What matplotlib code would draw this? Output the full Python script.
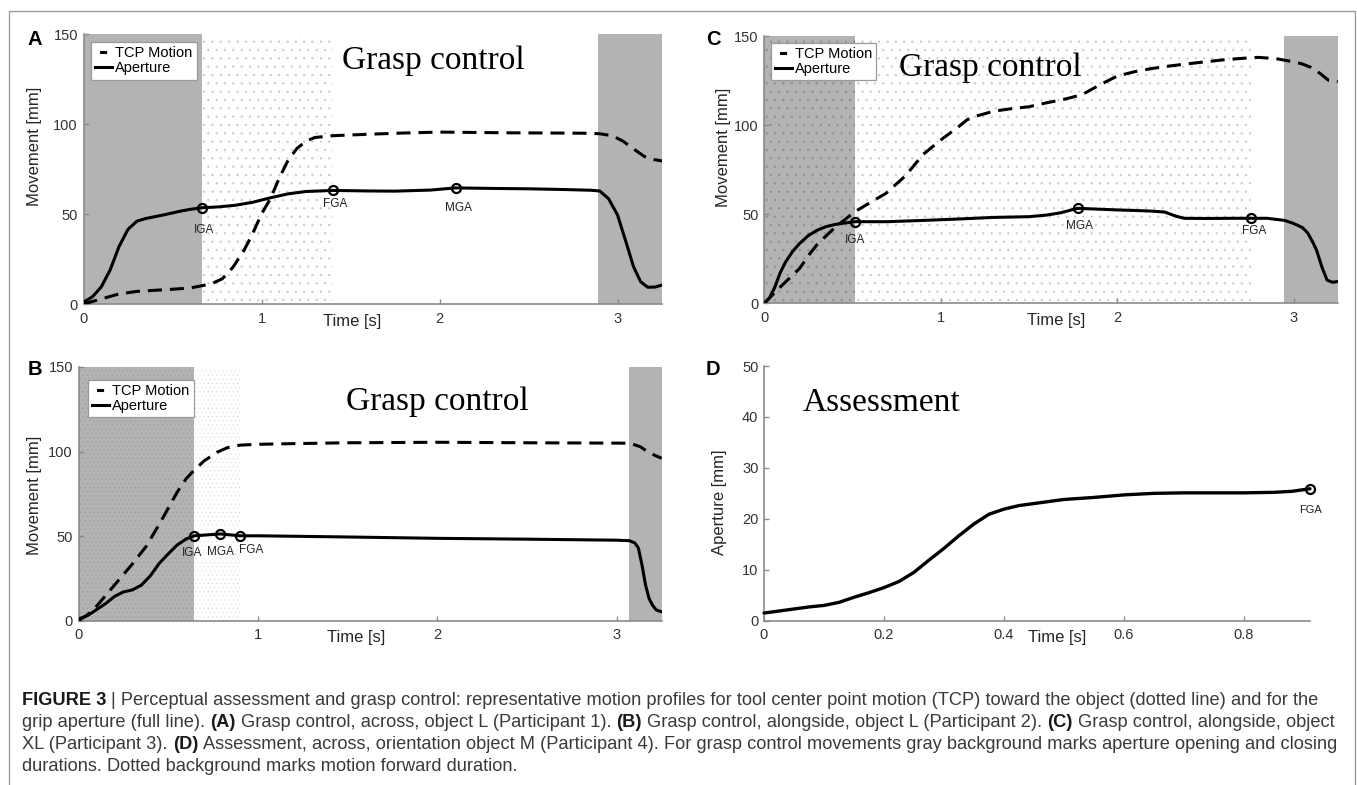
import matplotlib
matplotlib.use("Agg")
import matplotlib.pyplot as plt
from matplotlib.lines import Line2D
from matplotlib.patches import Rectangle
from matplotlib import font_manager

W, H = 1357, 785

# ---------------- data ----------------
# Panel A: grasp control, across, object L
a_time_ap = [0, 0.05, 0.10, 0.15, 0.20, 0.25, 0.30, 0.35, 0.40, 0.45, 0.50, 0.55, 0.60,
             0.668, 0.75, 0.85, 0.95, 1.05, 1.15, 1.25, 1.40, 1.60, 1.75, 1.95, 2.09,
             2.30, 2.50, 2.70, 2.85, 2.90, 2.95, 3.00, 3.05, 3.09, 3.13, 3.17, 3.21, 3.25]
a_aperture = [1.0, 4.0, 9.5, 19, 32, 41.5, 46, 47.5, 48.5, 49.5, 50.6, 51.7, 52.6,
              53.5, 53.9, 54.8, 56.5, 59.0, 61.2, 62.5, 63.1, 62.8, 62.7, 63.3, 64.5,
              64.2, 64.0, 63.6, 63.2, 62.8, 58.5, 49.5, 33.7, 20.7, 12.4, 9.3, 9.4, 10.5]
a_time_tcp = [0, 0.1, 0.2, 0.3, 0.4, 0.5, 0.6, 0.668, 0.72, 0.78, 0.84, 0.90, 0.95, 1.00,
              1.05, 1.10, 1.15, 1.20, 1.25, 1.30, 1.40, 1.60, 1.80, 2.00, 2.20, 2.40,
              2.60, 2.80, 2.90, 2.97, 3.03, 3.10, 3.15, 3.20, 3.25]
a_tcp = [0, 2.8, 5.6, 7.0, 7.6, 8.2, 8.9, 10.2, 11.3, 14, 20.5, 29.5, 39, 50,
         58.5, 70, 80, 86.5, 90.5, 92.5, 93.5, 94.3, 95, 95.5, 95.3, 95.1,
         95, 94.9, 94.6, 93.5, 90.5, 85.5, 82, 80.3, 79.5]
a_event_time = [0.668, 1.40, 2.09]
a_event_value = [53.5, 63.1, 64.5]
a_event_label = ["IGA", "FGA", "MGA"]
a_gray_spans = [(0, 0.668), (2.89, 3.25)]
a_dot_spans = [(0.668, 1.40)]

# Panel B: grasp control, alongside, object L
b_time_ap = [0, 0.05, 0.10, 0.15, 0.20, 0.25, 0.30, 0.35, 0.40, 0.45, 0.50, 0.55, 0.60,
             0.645, 0.70, 0.79, 0.90, 1.00, 1.50, 2.00, 2.50, 3.00, 3.07, 3.10, 3.12,
             3.14, 3.16, 3.18, 3.20, 3.22, 3.25]
b_aperture = [1, 3.0, 6.5, 10, 14.3, 17, 18.2, 21, 26.5, 33.9, 39.5, 44.8, 48.3,
              50.2, 50.6, 51.3, 50.2, 50.2, 49.5, 48.7, 48.2, 47.6, 47.3, 46, 43,
              33, 21, 13, 9, 6.3, 5.3]
b_time_tcp = [0, 0.05, 0.10, 0.20, 0.30, 0.376, 0.45, 0.50, 0.55, 0.60, 0.645, 0.70,
              0.77, 0.83, 0.90, 1.00, 1.20, 1.50, 2.00, 2.50, 3.00, 3.074, 3.13, 3.185, 3.25]
b_tcp = [0, 3.5, 8.5, 21, 33.5, 43.8, 57, 66.5, 76, 84, 89, 94.5,
         99.5, 102.3, 103.8, 104.3, 104.7, 105.2, 105.5, 105.2, 105, 104.9, 102.9, 99, 96]
b_event_time = [0.645, 0.79, 0.90]
b_event_value = [50.2, 51.3, 50.2]
b_event_label = ["IGA", "MGA", "FGA"]
b_gray_spans = [(0, 0.645), (3.07, 3.25)]
b_dot_spans = [(0, 0.90)]

# Panel C: grasp control, alongside, object XL
c_time_ap = [0, 0.03, 0.06, 0.09, 0.12, 0.16, 0.20, 0.25, 0.30, 0.35, 0.40, 0.45, 0.514,
             0.70, 0.90, 1.10, 1.30, 1.50, 1.60, 1.68, 1.776, 1.90, 2.00, 2.10, 2.20,
             2.27, 2.33, 2.38, 2.50, 2.65, 2.757, 2.85, 2.95, 3.00, 3.05, 3.08, 3.11,
             3.13, 3.16, 3.19, 3.22, 3.25]
c_aperture = [0, 3, 9, 17, 23, 29, 33.5, 38, 41, 43, 44.2, 45, 45.8,
              45.8, 46.5, 47.3, 48.2, 48.6, 49.5, 50.8, 53.3, 52.8, 52.4, 52.1, 51.7,
              51.2, 49, 47.7, 47.6, 47.7, 47.7, 47.7, 46.5, 44.8, 42.5, 39.5, 34,
              29.9, 20.5, 13, 11.8, 12.2]
c_time_tcp = [0, 0.1, 0.2, 0.26, 0.3, 0.4, 0.514, 0.6, 0.69, 0.8, 0.9, 1.0, 1.1, 1.15,
              1.2, 1.3, 1.4, 1.5, 1.6, 1.7, 1.8, 1.9, 2.0, 2.1, 2.2, 2.3, 2.4, 2.5,
              2.6, 2.7, 2.8, 2.9, 3.0, 3.05, 3.1, 3.15, 3.2, 3.25]
c_tcp = [0, 10, 19.5, 28, 33, 42.5, 51.4, 56.5, 61.7, 71.5, 83.5, 91.6, 99, 103,
         105, 107.8, 109.2, 110.3, 112.5, 114.5, 117, 122.5, 127.5, 130, 131.8, 133.2,
         134.4, 135.5, 136.6, 137.4, 138, 137.3, 135.5, 134.3, 132.3, 129, 125, 124.4]
c_event_time = [0.514, 1.776, 2.757]
c_event_value = [45.8, 53.3, 47.7]
c_event_label = ["IGA", "MGA", "FGA"]
c_gray_spans = [(0, 0.514), (2.947, 3.25)]
c_dot_spans = [(0, 2.757)]

# Panel D: assessment, across, orientation object M
d_time = [0, 0.05, 0.075, 0.10, 0.125, 0.15, 0.175, 0.20, 0.225, 0.25, 0.275, 0.30,
          0.325, 0.35, 0.375, 0.40, 0.425, 0.45, 0.50, 0.55, 0.60, 0.65, 0.70, 0.75,
          0.80, 0.85, 0.88, 0.91]
d_aperture = [1.5, 2.3, 2.7, 3.0, 3.6, 4.6, 5.5, 6.5, 7.7, 9.5, 11.9, 14.2,
              16.7, 19.0, 20.9, 21.9, 22.6, 23.0, 23.8, 24.2, 24.7, 25.0, 25.1, 25.1,
              25.1, 25.2, 25.4, 25.9]
d_event_time = [0.91]
d_event_value = [25.9]
d_event_label = ["FGA"]

time_ticks = [0, 1, 2, 3]
time_ticklabels = ["0", "1", "2", "3"]
move_ticks = [0, 50, 100, 150]
d_time_ticks = [0, 0.2, 0.4, 0.6, 0.8]
d_time_ticklabels = ["0", "0.2", "0.4", "0.6", "0.8"]
d_ap_ticks = [0, 10, 20, 30, 40, 50]
legend_labels = ["TCP Motion", "Aperture"]

caption_lines = [
    [("FIGURE 3", True),
     (" | Perceptual assessment and grasp control: representative motion profiles for tool "
      "center point motion (TCP) toward the object (dotted line) and for the", False)],
    [("grip aperture (full line). ", False), ("(A)", True),
     (" Grasp control, across, object L (Participant 1). ", False), ("(B)", True),
     (" Grasp control, alongside, object L (Participant 2). ", False), ("(C)", True),
     (" Grasp control, alongside, object", False)],
    [("XL (Participant 3). ", False), ("(D)", True),
     (" Assessment, across, orientation object M (Participant 4). For grasp control "
      "movements gray background marks aperture opening and closing", False)],
    [("durations. Dotted background marks motion forward duration.", False)],
]

# ---------------- style ----------------
plt.rcParams["font.family"] = ["Liberation Sans", "DejaVu Sans"]
plt.rcParams["hatch.linewidth"] = 0.6

SPINE = "#8a8a8a"
TICKLAB = "#333333"
GRAY = "#b3b3b3"
LW = 2.2

fig = plt.figure(figsize=(W / 100, H / 100), dpi=100)
fig.patch.set_facecolor("white")


def make_axes(l, t, r, b):
    return fig.add_axes([l / W, 1 - b / H, (r - l) / W, (b - t) / H])


def style(ax, xlim, ylim, xticks, xticklabels, yticks):
    ax.set_xlim(*xlim)
    ax.set_ylim(*ylim)
    ax.set_xticks(xticks)
    ax.set_xticklabels(xticklabels)
    ax.set_yticks(yticks)
    for s in ["top", "right"]:
        ax.spines[s].set_visible(False)
    for s in ["left", "bottom"]:
        ax.spines[s].set_color(SPINE)
        ax.spines[s].set_linewidth(1.2)
    ax.tick_params(direction="in", length=3.5, width=1.0, color=SPINE,
                   labelcolor=TICKLAB, labelsize=10.5)
    ax.tick_params(axis="x", pad=5.5)
    ax.tick_params(axis="y", pad=4)


def labels(ax, xlab, ylab, xpos, ypos):
    ax.set_xlabel(xlab, fontsize=12, color="#262626")
    ax.set_ylabel(ylab, fontsize=12, color="#262626")
    ax.xaxis.label.set_va("center")
    ax.yaxis.label.set_va("center")
    ax.xaxis.set_label_coords(*xpos)
    ax.yaxis.set_label_coords(*ypos)


def events(ax, et, ev, el, offsets, fs=8.5):
    ax.plot(et, ev, "o", ms=6.5, mfc="none", mec="k", mew=1.6, zorder=4, clip_on=False)
    for t, v, lab, (dx, dy) in zip(et, ev, el, offsets):
        ax.annotate(lab, (t, v), xytext=(dx, dy), textcoords="offset pixels",
                    ha="center", va="center", fontsize=fs, color="#222222", zorder=5)


def panel(ax, t_ap, ap, t_tcp, tcp, gray, dots, hatch, dot_alpha, hatch_lw):
    for s, e in gray:
        ax.axvspan(s, e, facecolor=GRAY, lw=0, zorder=0.5)
    for s, e in dots:
        p = ax.axvspan(s, e, facecolor="none", edgecolor=(0, 0, 0, dot_alpha),
                       hatch=hatch, lw=0, zorder=0.6)
        if hasattr(p, "set_hatch_linewidth"):
            p.set_hatch_linewidth(hatch_lw)
    ax.plot(t_tcp, tcp, color="k", lw=LW, dashes=(4.6, 2.6), dash_capstyle="butt", zorder=3)
    ax.plot(t_ap, ap, color="k", lw=LW, zorder=3, solid_joinstyle="round")


def legend(ax, x, y):
    h1 = Line2D([], [], color="k", lw=LW, linestyle=(20.8, (2.3, 20)), dash_capstyle="butt")
    h2 = Line2D([], [], color="k", lw=LW)
    leg = ax.legend([h1, h2], legend_labels, loc="upper left", bbox_to_anchor=(x, y),
                    borderaxespad=0, fancybox=False, framealpha=1, edgecolor="#9a9a9a",
                    fontsize=10.5, handlelength=1.15, handletextpad=0.2,
                    labelspacing=0.05, borderpad=0.3)
    leg.get_frame().set_linewidth(0.9)
    leg.set_zorder(6)


def title(ax, x, y, s):
    ax.text(x, y, s, family="Liberation Serif", fontsize=24, ha="center",
            va="baseline", color="black", zorder=5)


# ---- Panel A ----
axA = make_axes(83.5, 34, 662, 304)
panel(axA, a_time_ap, a_aperture, a_time_tcp, a_tcp, a_gray_spans, a_dot_spans, "..", 0.14, 0.6)
events(axA, a_event_time, a_event_value, a_event_label, [(2, -22), (2, -14), (3, -20)])
style(axA, (0, 3.25), (0, 150), time_ticks, time_ticklabels, move_ticks)
labels(axA, "Time [s]", "Movement [mm]", (0.464, -0.063), (-0.0844, 0.583))
legend(axA, 0.013, 0.970)
title(axA, 1.968, 130.4, "Grasp control")

# ---- Panel B ----
axB = make_axes(78.5, 367, 661.7, 620.7)
panel(axB, b_time_ap, b_aperture, b_time_tcp, b_tcp, b_gray_spans, b_dot_spans, "....", 0.10, 0.4)
events(axB, b_event_time, b_event_value, b_event_label, [(-2, -17), (0, -18), (11, -14)])
style(axB, (0, 3.25), (0, 150), time_ticks, time_ticklabels, move_ticks)
labels(axB, "Time [s]", "Movement [mm]", (0.476, -0.067), (-0.0754, 0.495))
legend(axB, 0.0163, 0.949)
title(axB, 1.998, 124.6, "Grasp control")

# ---- Panel C ----
axC = make_axes(764.2, 36, 1337.7, 303.3)
panel(axC, c_time_ap, c_aperture, c_time_tcp, c_tcp, c_gray_spans, c_dot_spans, "..", 0.14, 0.6)
events(axC, c_event_time, c_event_value, c_event_label, [(0, -18), (2, -18), (3, -13)])
style(axC, (0, 3.25), (0, 150), time_ticks, time_ticklabels, move_ticks)
labels(axC, "Time [s]", "Movement [mm]", (0.509, -0.064), (-0.071, 0.583))
legend(axC, 0.0113, 0.974)
title(axC, 1.279, 127.6, "Grasp control")

# ---- Panel D ----
axD = make_axes(764, 366, 1310, 620.7)
axD.plot(d_time, d_aperture, color="k", lw=2.4, zorder=3, solid_joinstyle="round",
         solid_capstyle="round", clip_on=False)
events(axD, d_event_time, d_event_value, d_event_label, [(0, -21)], fs=8)
style(axD, (0, 0.91), (0, 50), d_time_ticks, d_time_ticklabels, d_ap_ticks)
labels(axD, "Time [s]", "Aperture [mm]", (0.5375, -0.067), (-0.0806, 0.466))
axD.text(0.196, 41.2, "Assessment", family="Liberation Serif", fontsize=24,
         ha="center", va="baseline", color="black")

# ---- panel letters ----
for lab, x, y in [("A", 34.7, 45), ("B", 34.7, 375), ("C", 713.7, 45), ("D", 712.8, 375)]:
    fig.text(x / W, 1 - y / H, lab, fontsize=14.5, fontweight="bold", ha="center",
             va="baseline", color="black")

# ---- outer frame ----
fig.add_artist(Rectangle((9 / W, -0.02), (1355 - 9) / W, 1 - 11 / H + 0.02,
                         transform=fig.transFigure, fill=False, ec="#9b9b9b", lw=1.0))

# ---- caption ----
names = {f.name for f in font_manager.fontManager.ttflist}
cap_family = "Liberation Sans Narrow" if "Liberation Sans Narrow" in names else "Liberation Sans"
renderer = fig.canvas.get_renderer()


def text_w(s, fs, weight):
    t = fig.text(0, 0, s, fontsize=fs, fontweight=weight, family=cap_family)
    w = t.get_window_extent(renderer).width
    t.remove()
    return w


def advance(s, fs, weight):
    return text_w("|" + s + "|", fs, weight) - text_w("||", fs, weight)


def line_width(segs, fs):
    return sum(advance(s, fs, "bold" if b else "normal") for s, b in segs)


fs0 = 11.0
cap_fs = fs0 * 1294.0 / line_width(caption_lines[0], fs0)


def draw_line(segs, y_base, fs):
    x = 22.0
    for s, bold in segs:
        w = "bold" if bold else "normal"
        stripped = s.lstrip(" ")
        x += (len(s) - len(stripped)) * advance(" ", fs, w)
        fig.text(x / W, 1 - y_base / H, stripped, fontsize=fs, fontweight=w,
                 family=cap_family, color="#1a1a1a" if bold else "#3a3a3a",
                 ha="left", va="baseline")
        x += advance(stripped, fs, w)


for i, segs in enumerate(caption_lines):
    draw_line(segs, 705 + 22 * i, cap_fs)

fig.savefig("out.png", dpi=100)
